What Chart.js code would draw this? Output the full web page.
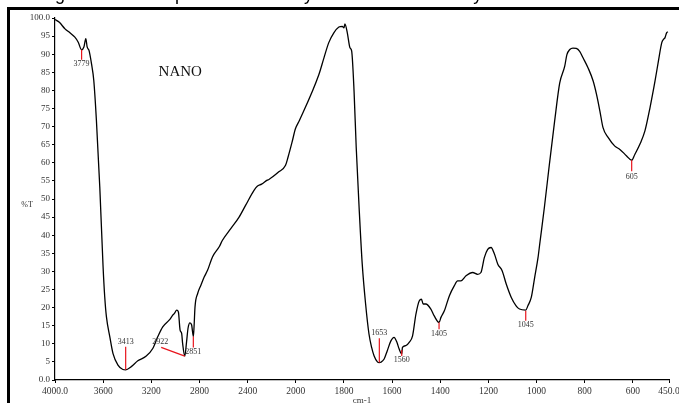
<!DOCTYPE html>
<html>
<head>
<meta charset="utf-8">
<script src="https://cdn.jsdelivr.net/npm/chart.js@4.4.1/dist/chart.umd.min.js"></script>
<style>
  body { margin: 0; background: #fff; }
  #wrap { position: relative; width: 679px; height: 403px; overflow: hidden; background: #fff; }
  #caption { position: absolute; left: 40px; top: -14.7px; font: 18px "Liberation Sans", Arial, sans-serif; line-height: 18px; white-space: nowrap; color: #000; will-change: transform; }
  #frame { position: absolute; left: 7px; top: 7px; width: 700px; height: 420px; border-left: 3px solid #000; border-top: 3px solid #000; }
  #ir { position: absolute; left: 0; top: 0; }
</style>
</head>
<body>
<div id="wrap">
  <div id="caption">Figure 4. FT-IR spectrum of the synthesized nanocatalyst</div>
  <div id="frame"></div>
  <canvas id="ir" width="679" height="403"></canvas>
</div>
<script>
// spectrum (wavenumber in cm-1, transmittance in %T)
const wavenumbers = [
  4000, 3964, 3917, 3876, 3835, 3807, 3779, 3760, 3744, 3733, 3717, 3697, 3678, 3656, 3628, 3601,
  3587, 3573, 3545, 3518, 3477, 3436, 3413, 3366, 3312, 3242, 3188, 3146, 3105, 3050, 3022, 3008,
  2989, 2975, 2961, 2948, 2940, 2922, 2907, 2895, 2879, 2865, 2851, 2845, 2837, 2815, 2788, 2760,
  2733, 2692, 2636, 2609, 2540, 2471, 2416, 2347, 2320, 2284, 2237, 2223, 2141, 2085, 2064, 2031,
  2003, 1985, 1904, 1883, 1863, 1842, 1821, 1807, 1800, 1796, 1786, 1775, 1768, 1758, 1749, 1737,
  1724, 1710, 1696, 1685, 1675, 1661, 1653, 1647, 1633, 1620, 1605, 1592, 1580, 1571, 1560, 1557,
  1543, 1529, 1515, 1501, 1487, 1478, 1471, 1460, 1439, 1425, 1405, 1397, 1383, 1362, 1342, 1328,
  1314, 1293, 1265, 1245, 1231, 1217, 1203, 1189, 1175, 1161, 1143, 1126, 1105, 1085, 1071, 1045,
  1036, 1022, 1008, 994, 987, 967, 946, 925, 904, 883, 874, 862, 849, 835, 821, 807,
  786, 765, 751, 737, 724, 703, 675, 654, 626, 605, 592, 571, 550, 529, 508, 494,
  480, 473, 467, 460, 455
];
const transmittance = [
  99.6, 98.8, 97.0, 95.9, 94.7, 93.3, 91.2, 92.0, 94.3, 92.0, 91.0, 87.4, 82.8, 71.7, 53.3, 31.5,
  23.0, 17.5, 12.0, 7.3, 4.1, 2.9, 2.8, 3.7, 5.3, 6.6, 8.7, 12.0, 14.7, 16.6, 17.9, 18.4,
  19.3, 18.8, 13.8, 12.9, 10.1, 6.6, 10.6, 14.3, 15.8, 15.2, 12.0, 14.7, 20.2, 23.9, 26.2, 28.5,
  30.3, 34.0, 36.8, 38.6, 41.8, 45.0, 48.3, 52.4, 53.5, 54.1, 55.2, 55.4, 57.5, 59.3, 61.6, 65.7,
  69.4, 71.7, 84.4, 89.0, 93.2, 95.9, 97.5, 97.7, 97.3, 98.4, 95.9, 91.8, 90.9, 79.8, 64.2, 47.6,
  32.0, 21.0, 12.7, 9.0, 6.7, 5.0, 4.8, 4.9, 5.8, 8.1, 10.8, 11.8, 10.4, 8.6, 7.2, 9.0,
  9.5, 10.4, 12.2, 18.2, 21.9, 22.3, 21.0, 21.0, 19.6, 17.7, 15.9, 17.3, 19.1, 23.3, 26.0, 27.4,
  27.4, 28.8, 29.7, 29.2, 29.7, 33.8, 36.1, 36.6, 34.8, 32.0, 30.2, 26.5, 22.8, 20.5, 19.6, 19.3,
  20.5, 22.8, 28.3, 33.8, 37.5, 48.0, 60.0, 71.5, 82.0, 86.7, 89.9, 91.3, 91.7, 91.6, 90.8, 89.0,
  86.2, 82.6, 78.9, 74.3, 69.7, 67.0, 64.6, 63.7, 61.9, 60.7, 62.3, 65.1, 68.8, 75.2, 82.6, 88.1,
  93.2, 94.1, 94.5, 95.9, 96.2
];

// axis ticks
const xTickValues = [4000, 3600, 3200, 2800, 2400, 2000, 1800, 1600, 1400, 1200, 1000, 800, 600, 450];
const xTickLabels = ['4000.0', '3600', '3200', '2800', '2400', '2000', '1800', '1600', '1400', '1200', '1000', '800', '600', '450.0'];
const yTickLabels = ['0.0', '5', '10', '15', '20', '25', '30', '35', '40', '45', '50', '55', '60', '65', '70', '75', '80', '85', '90', '95', '100.0'];

// peak markers: where the red line starts on the curve, where it ends, and where the number sits
const peakLabels = ['3779', '3413', '2922', '2851', '1653', '1560', '1405', '1045', '605'];
const peakWn     = [3779, 3413, 2922, 2851, 1653, 1560, 1405, 1045, 605];
const peakT      = [91.2, 2.8, 6.6, 12.0, 4.8, 8.3, 15.9, 19.1, 60.7];
const peakEndWn  = [3779, 3413, 3118, 2851, 1653, 1560, 1405, 1045, 605];
const peakEndT   = [88.5, 9.2, 9.0, 9.0, 11.5, 6.6, 14.0, 16.4, 57.7];
const labelWn    = [3779, 3413, 3126, 2851, 1653, 1560, 1405, 1045, 605];
const labelT     = [87.2, 10.4, 10.4, 7.8, 12.9, 5.5, 12.6, 15.1, 56.1];

// the spectrometer plot is stretched 2x below 2000 cm-1, so map wavenumber to an axis unit
function toAxis(wn) {
  return wn >= 2000 ? (4000 - wn) / 2 : 1000 + (2000 - wn);
}

const serif = '"Liberation Serif", "Times New Roman", serif';

const peakPlugin = {
  id: 'peaks',
  afterDatasetsDraw(chart) {
    const ctx = chart.ctx;
    const x = chart.scales.x, y = chart.scales.y;
    ctx.save();
    ctx.strokeStyle = '#e8141c';
    ctx.lineWidth = 1.2;
    ctx.fillStyle = '#333';
    ctx.font = '8px ' + serif;
    ctx.textAlign = 'center';
    ctx.textBaseline = 'middle';
    peakLabels.forEach((lab, i) => {
      ctx.beginPath();
      ctx.moveTo(x.getPixelForValue(toAxis(peakWn[i])), y.getPixelForValue(peakT[i]));
      ctx.lineTo(x.getPixelForValue(toAxis(peakEndWn[i])), y.getPixelForValue(peakEndT[i]));
      ctx.stroke();
      ctx.fillText(lab, x.getPixelForValue(toAxis(labelWn[i])), y.getPixelForValue(labelT[i]));
    });
    // sample name and y axis name
    ctx.fillStyle = '#111';
    ctx.font = '15px ' + serif;
    ctx.fillText('NANO', x.getPixelForValue(toAxis(2960)), y.getPixelForValue(85));
    ctx.fillStyle = '#333';
    ctx.font = '8px ' + serif;
    ctx.fillText('%T', chart.chartArea.left - 28, y.getPixelForValue(48.3));
    ctx.restore();
  }
};

new Chart(document.getElementById('ir'), {
  type: 'line',
  data: {
    datasets: [{
      data: wavenumbers.map((w, i) => ({ x: toAxis(w), y: transmittance[i] })),
      borderColor: '#000',
      borderWidth: 1.3,
      pointRadius: 0,
      cubicInterpolationMode: 'monotone',
      fill: false
    }]
  },
  options: {
    responsive: false,
    animation: false,
    layout: { padding: { left: 0, right: 10, top: 18, bottom: 0 } },
    plugins: { legend: { display: false }, tooltip: { enabled: false } },
    scales: {
      x: {
        type: 'linear',
        min: 0,
        max: toAxis(450),
        afterBuildTicks: axis => { axis.ticks = xTickValues.map(w => ({ value: toAxis(w) })); },
        afterFit: axis => { axis.height = 23; axis.paddingLeft = 0; axis.paddingRight = 0; },
        grid: { display: true, drawOnChartArea: false, drawTicks: true, tickLength: 3, color: '#000' },
        border: { display: true, color: '#000', width: 1.2 },
        ticks: {
          autoSkip: false, maxRotation: 0, padding: 3, color: '#333',
          font: { family: serif, size: 9.5 },
          callback: (v, i) => xTickLabels[i]
        },
        title: { display: true, text: 'cm-1', color: '#333', font: { family: serif, size: 9 }, padding: { top: 0, bottom: -3 } }
      },
      y: {
        min: 0,
        max: 100,
        afterFit: axis => { axis.width = 55; axis.paddingTop = 0; axis.paddingBottom = 0; },
        grid: { display: true, drawOnChartArea: false, drawTicks: true, tickLength: 3, color: '#000' },
        border: { display: true, color: '#000', width: 1.2 },
        ticks: {
          stepSize: 5, padding: 2, color: '#333',
          font: { family: serif, size: 9 },
          callback: (v, i) => yTickLabels[i]
        }
      }
    }
  },
  plugins: [peakPlugin]
});
</script>
</body>
</html>
